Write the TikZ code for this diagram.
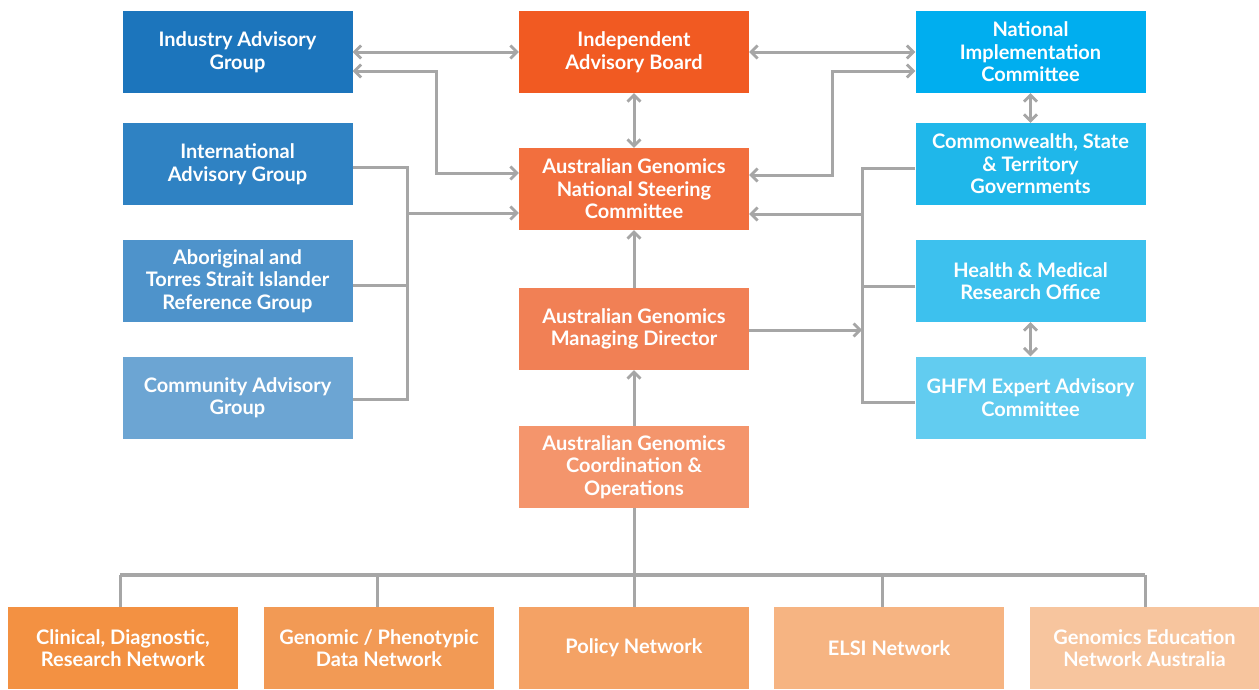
\documentclass[tikz,border=0pt]{standalone}
\usepackage{fontspec}
\setmainfont{Lato}
\usetikzlibrary{arrows.meta}
\definecolor{cInd}{HTML}{1C75BC}
\definecolor{cIntl}{HTML}{2F82C3}
\definecolor{cAbo}{HTML}{4E93CB}
\definecolor{cCom}{HTML}{6CA5D3}
\definecolor{cIab}{HTML}{F15A22}
\definecolor{cNsc}{HTML}{F26F3E}
\definecolor{cMd}{HTML}{F18055}
\definecolor{cCoord}{HTML}{F4956C}
\definecolor{cNic}{HTML}{00AEEF}
\definecolor{cCw}{HTML}{1FB7EA}
\definecolor{cHmr}{HTML}{3DC1EE}
\definecolor{cGhfm}{HTML}{62CCF0}
\definecolor{cB1}{HTML}{F39142}
\definecolor{cB2}{HTML}{F29A55}
\definecolor{cB3}{HTML}{F4A265}
\definecolor{cB4}{HTML}{F6B482}
\definecolor{cB5}{HTML}{F7C59E}
\definecolor{lineGray}{HTML}{A6A6A6}
\tikzset{
  orgbox/.style={rectangle, minimum width=230pt, minimum height=82pt, inner sep=0pt,
    text=white, align=center, font=\fontsize{20}{22.5}\selectfont\bfseries},
  conn/.style={draw=lineGray, line width=3pt},
  onearrow/.style={conn, -{Straight Barb[length=6.5pt,width=13pt,line width=2.8pt]}},
  twoarrow/.style={conn, {Straight Barb[length=6.5pt,width=13pt,line width=2.8pt]}-{Straight Barb[length=6.5pt,width=13pt,line width=2.8pt]}},
}
\begin{document}
\begin{tikzpicture}[x=1pt,y=-1pt]
\useasboundingbox (0,0) rectangle (1259,689);
% left column
\node[orgbox, fill=cInd] (ind) at (237.5,52) {Industry Advisory\\Group};
\node[orgbox, fill=cIntl] (intl) at (237.5,164) {International\\Advisory Group};
\node[orgbox, fill=cAbo] (abo) at (237.5,281) {Aboriginal and\\Torres Strait Islander\\Reference Group};
\node[orgbox, fill=cCom] (com) at (237.5,397.5) {Community Advisory\\Group};
% centre column
\node[orgbox, fill=cIab] (iab) at (634,52) {Independent\\Advisory Board};
\node[orgbox, fill=cNsc] (nsc) at (634,189) {Australian Genomics\\National Steering\\Committee};
\node[orgbox, fill=cMd] (md) at (634,329) {Australian Genomics\\Managing Director};
\node[orgbox, fill=cCoord] (coord) at (634,467) {Australian Genomics\\Coordination \&\\Operations};
% right column
\node[orgbox, fill=cNic] (nic) at (1030.5,52) {National\\Implementation\\Committee};
\node[orgbox, fill=cCw] (cw) at (1030.5,164) {Commonwealth, State\\\& Territory\\Governments};
\node[orgbox, fill=cHmr] (hmr) at (1030.5,281) {Health \& Medical\\Research Office};
\node[orgbox, fill=cGhfm] (ghfm) at (1030.5,397.5) {GHFM Expert Advisory\\Committee};
% bottom row
\node[orgbox, fill=cB1] (b1) at (123,648) {Clinical, Diagnostic,\\Research Network};
\node[orgbox, fill=cB2] (b2) at (379,648) {Genomic / Phenotypic\\Data Network};
\node[orgbox, fill=cB3] (b3) at (634,648) {Policy Network};
\node[orgbox, fill=cB4] (b4) at (889,648) {ELSI Network};
\node[orgbox, fill=cB5] (b5) at (1144.5,648) {Genomics Education\\Network Australia};

% helper coordinates
\coordinate (lbTop) at (407,167);
\coordinate (lbBot) at (407,399);
\coordinate (rbTop) at (862,168);
\coordinate (rbBot) at (862,402);
\coordinate (busL) at (120,575);
\coordinate (busR) at (1145,575);

% top arrows
\draw[twoarrow] (ind.east) -- (iab.west);
\draw[twoarrow] (iab.east) -- (nic.west);
\draw[twoarrow] (iab.south) -- (nsc.north);
\draw[twoarrow] (ind.east |- 0,71) -| (436,173) -- (nsc.west |- 0,173);
\draw[twoarrow] (nic.west |- 0,71) -| (832,175) -- (nsc.east |- 0,175);
\draw[twoarrow] (nic.south) -- (cw.north);
\draw[twoarrow] (hmr.south) -- (ghfm.north);

% left bracket
\draw[conn] (intl.east |- lbTop) -- (lbTop) -- (lbBot) -- (com.east |- lbBot);
\draw[conn] (abo.east |- 0,285) -- (407,285);
\draw[onearrow] (407,213) -- (nsc.west |- 0,213);

% right bracket
\draw[conn] (cw.west |- rbTop) -- (rbTop) -- (rbBot) -- (ghfm.west |- rbBot);
\draw[conn] (hmr.west |- 0,286) -- (862,286);
\draw[onearrow] (862,214) -- (nsc.east |- 0,214);
\draw[onearrow] (md.east |- 0,330) -- (862,330);

% centre vertical arrows
\draw[onearrow] (md.north) -- (nsc.south);
\draw[onearrow] (coord.north) -- (md.south);

% bottom tree
\draw[conn] (coord.south) -- (coord.south |- busL);
\draw[conn, line width=3.5pt] (busL) -- (busR);
\draw[conn] (busL) -- (b1.north -| busL);
\draw[conn] (377,575) -- (b2.north -| 377,0);
\draw[conn] (634,575) -- (b3.north);
\draw[conn] (882,575) -- (b4.north -| 882,0);
\draw[conn] (busR) -- (b5.north -| busR);
\end{tikzpicture}
\end{document}
